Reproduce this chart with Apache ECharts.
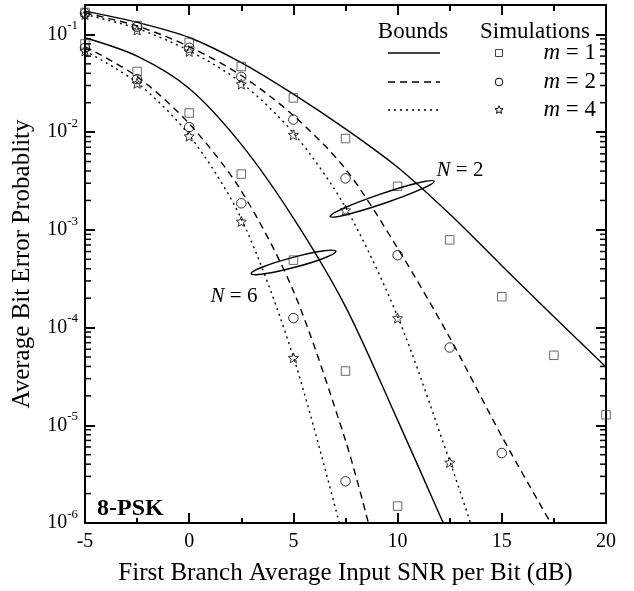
<!DOCTYPE html>
<html>
<head>
<meta charset="utf-8">
<script src="https://cdn.jsdelivr.net/npm/echarts@6/dist/echarts.min.js"></script>
<style>
  html, body { margin: 0; padding: 0; background: #fff; }
  #chart { width: 634px; height: 591px; }
</style>
</head>
<body>
<div id="chart"></div>
<script>
// simulation points (x = SNR in dB)
var xSim = [-5, -2.5, 0, 2.5, 5, 7.5, 10, 12.5, 15, 17.5, 20]
var simN2m1 = [0.168, 0.123, 0.083, 0.047, 0.0224, 0.0086, 0.00279, 7.9e-4, 2.07e-4, 5.2e-5, 1.28e-5]
var simN2m2 = [0.165, 0.12, 0.073, 0.0368, 0.01345, 0.00336, 5.5e-4, 6.25e-5, 5.2e-6]
var simN2m4 = [0.16, 0.111, 0.067, 0.031, 0.0094, 0.00159, 1.25e-4, 4.17e-6]
var simN6m1 = [0.08, 0.0418, 0.0157, 0.00372, 4.9e-4, 3.59e-5, 1.49e-6]
var simN6m2 = [0.073, 0.0349, 0.01127, 0.00187, 1.25e-4, 2.67e-6]
var simN6m4 = [0.068, 0.0316, 0.0091, 0.00122, 4.9e-5]

// bounds (analytic curves)
var xB = [-5, -2.5, 0, 2.5, 5, 7.5, 10, 12.5, 15, 17.5, 20]
var bndN2m1 = [0.173, 0.133, 0.093, 0.0515, 0.0245, 0.0108, 0.00437, 0.00145, 4.3e-4, 1.29e-4, 3.95e-5]
var xBN2m2 = [-5, -2.5, 0, 2.5, 5, 7.5, 10, 12.5, 15, 17.35]
var bndN2m2 = [0.166, 0.122, 0.075, 0.038, 0.0148, 0.0042, 6.5e-4, 7.9e-5, 7.7e-6, 1e-6]
var xBN2m4 = [-5, -2.5, 0, 2.5, 5, 7.5, 10, 12.5, 13.5]
var bndN2m4 = [0.16, 0.115, 0.068, 0.032, 0.0098, 0.0017, 1.3e-4, 4.3e-6, 1e-6]
var xBN6m1 = [-5, -2.5, 0, 2.5, 5, 7.5, 10, 12.19]
var bndN6m1 = [0.0925, 0.06, 0.028, 0.0075, 1.32e-3, 1.64e-4, 1.13e-5, 1e-6]
var xBN6m2 = [-5, -2.5, 0, 2.5, 5, 7.5, 8.6]
var bndN6m2 = [0.075, 0.037, 0.0122, 0.0025, 2.37e-4, 7e-6, 1e-6]
var xBN6m4 = [-5, -2.5, 0, 2.5, 5, 7.2]
var bndN6m4 = [0.068, 0.032, 0.0093, 0.0013, 5e-5, 1e-6]

// ellipses: [x1, p1, x2, p2]
var ellipses = [
  [6.76, 1.37e-3, 11.75, 3.15e-3],
  [2.97, 3.56e-4, 7.04, 6.04e-4]
]

var xTicks = [-5, 20, 5]   // min, max, interval
var yRange = [1e-6, 0.2]

var FONT = '"Liberation Serif", "Times New Roman", serif'
var STAR = 'path://M0,-10L2.645,-3.64L9.51,-3.09L4.28,1.39L5.88,8.09L0,4.5L-5.88,8.09L-4.28,1.39L-9.51,-3.09L-2.645,-3.64Z'
var DASH = [7, 5]
var DOT = [2, 4]

function pairs(xs, ys) {
  return ys.map(function (y, i) { return [xs[i], y] })
}

// log minor ticks 2..9 per decade
var yMinor = []
for (var d = -6; d <= -1; d++) {
  for (var k = 2; k <= 9; k++) {
    var v = k * Math.pow(10, d)
    if (v < yRange[1]) yMinor.push([xTicks[0], v])
  }
}

function bound(name, xs, ys, type) {
  return {
    name: name, type: 'line', data: pairs(xs, ys), showSymbol: false,
    smooth: 0.3, silent: true,
    lineStyle: { color: '#000', width: 1.4, type: type }, z: 3
  }
}

function sim(name, ys, symbol, size, color) {
  return {
    name: name, type: 'scatter', data: pairs(xSim, ys), symbol: symbol, symbolSize: size,
    itemStyle: { color: 'rgba(0,0,0,0)', borderColor: color, borderWidth: 1 }, z: 4
  }
}

function starPoints(cx, cy, r) {
  var pts = []
  for (var i = 0; i < 10; i++) {
    var a = -Math.PI / 2 + i * Math.PI / 5
    var rr = i % 2 ? r * 0.45 : r
    pts.push([cx + rr * Math.cos(a), cy + rr * Math.sin(a)])
  }
  return pts
}

var chart = echarts.init(document.getElementById('chart'))

var axisLine = { show: true, onZero: false, lineStyle: { color: '#000', width: 2 } }
var tick = { inside: true, length: 10, lineStyle: { color: '#000', width: 2 } }

chart.setOption({
  animation: false,
  backgroundColor: '#fff',
  grid: { left: 85, right: 28, top: 5, bottom: 64, containLabel: false },
  xAxis: [
    {
      type: 'value', min: xTicks[0], max: xTicks[1], interval: xTicks[2],
      name: 'First Branch Average Input SNR per Bit (dB)', nameLocation: 'middle', nameGap: 38,
      nameTextStyle: { fontFamily: FONT, fontSize: 25, color: '#000' },
      axisLine: axisLine, axisTick: tick, splitLine: { show: false },
      minorTick: { show: true, splitNumber: 2, length: 5, lineStyle: { color: '#000', width: 2 } },
      axisLabel: { fontFamily: FONT, fontSize: 20, color: '#000', margin: 9 }
    },
    {
      type: 'value', min: xTicks[0], max: xTicks[1], interval: xTicks[2], position: 'top',
      axisLine: axisLine, axisTick: tick, splitLine: { show: false },
      minorTick: { show: true, splitNumber: 2, length: 6, lineStyle: { color: '#000', width: 2 } },
      axisLabel: { show: false }
    }
  ],
  yAxis: [
    {
      type: 'log', logBase: 10, min: yRange[0], max: yRange[1],
      name: 'Average Bit Error Probablity', nameLocation: 'middle', nameGap: 50,
      nameTextStyle: { fontFamily: FONT, fontSize: 25, color: '#000' },
      axisLine: axisLine, axisTick: tick, splitLine: { show: false },
      axisLabel: {
        margin: 7, color: '#000',
        formatter: function (v) {
          var l = Math.log(v) / Math.LN10
          var e = Math.round(l)
          if (Math.abs(l - e) > 1e-6) return ''
          return '{b|10}{s|' + e + '}'
        },
        rich: {
          b: { fontFamily: FONT, fontSize: 20, lineHeight: 30, color: '#000' },
          s: { fontFamily: FONT, fontSize: 13, lineHeight: 30, verticalAlign: 'top', color: '#000' }
        }
      }
    },
    {
      type: 'log', logBase: 10, min: yRange[0], max: yRange[1], position: 'right',
      axisLine: axisLine, axisTick: tick, splitLine: { show: false },
      axisLabel: { show: false }
    }
  ],
  series: [
    {
      type: 'custom', silent: true, data: yMinor, z: 2,
      renderItem: function (params, api) {
        var p = api.coord([xTicks[0], api.value(1)])
        var q = api.coord([xTicks[1], api.value(1)])
        return {
          type: 'group', children: [
            { type: 'line', shape: { x1: p[0], y1: p[1], x2: p[0] + 6, y2: p[1] }, style: { stroke: '#000', lineWidth: 1.5 } },
            { type: 'line', shape: { x1: q[0] - 6, y1: q[1], x2: q[0], y2: q[1] }, style: { stroke: '#000', lineWidth: 1.5 } }
          ]
        }
      }
    },
    {
      type: 'custom', silent: true, data: ellipses, z: 5,
      renderItem: function (params, api) {
        var a = api.coord([api.value(0), api.value(1)])
        var b = api.coord([api.value(2), api.value(3)])
        var dx = b[0] - a[0], dy = b[1] - a[1]
        var len = Math.sqrt(dx * dx + dy * dy)
        return {
          type: 'ellipse', x: (a[0] + b[0]) / 2, y: (a[1] + b[1]) / 2,
          rotation: -Math.atan2(dy, dx),
          shape: { cx: 0, cy: 0, rx: len / 2, ry: 5 },
          style: { fill: 'none', stroke: '#000', lineWidth: 1.5 }
        }
      }
    },
    bound('N2 m1', xB, bndN2m1, 'solid'),
    bound('N2 m2', xBN2m2, bndN2m2, DASH),
    bound('N2 m4', xBN2m4, bndN2m4, DOT),
    bound('N6 m1', xBN6m1, bndN6m1, 'solid'),
    bound('N6 m2', xBN6m2, bndN6m2, DASH),
    bound('N6 m4', xBN6m4, bndN6m4, DOT),
    sim('sim N2 m1', simN2m1, 'rect', 8.5, '#444'),
    sim('sim N2 m2', simN2m2, 'circle', 9.5, '#000'),
    sim('sim N2 m4', simN2m4, STAR, 10, '#000'),
    sim('sim N6 m1', simN6m1, 'rect', 8.5, '#444'),
    sim('sim N6 m2', simN6m2, 'circle', 9.5, '#000'),
    sim('sim N6 m4', simN6m4, STAR, 10, '#000')
  ],
  graphic: [
    { type: 'text', x: 413, y: 32, style: { text: 'Bounds', fontFamily: FONT, fontSize: 23, fill: '#000', align: 'center', verticalAlign: 'middle' } },
    { type: 'text', x: 535, y: 32, style: { text: 'Simulations', fontFamily: FONT, fontSize: 23, fill: '#000', align: 'center', verticalAlign: 'middle' } },
    { type: 'line', shape: { x1: 388, y1: 53, x2: 440, y2: 53 }, style: { stroke: '#000', lineWidth: 1.4 } },
    { type: 'line', shape: { x1: 388, y1: 82, x2: 440, y2: 82 }, style: { stroke: '#000', lineWidth: 1.4, lineDash: DASH } },
    { type: 'line', shape: { x1: 388, y1: 110, x2: 440, y2: 110 }, style: { stroke: '#000', lineWidth: 1.4, lineDash: DOT } },
    { type: 'rect', shape: { x: 495.5, y: 49.5, width: 7, height: 7 }, style: { fill: 'none', stroke: '#444', lineWidth: 1 } },
    { type: 'circle', shape: { cx: 499, cy: 82, r: 3.8 }, style: { fill: 'none', stroke: '#000', lineWidth: 1 } },
    { type: 'polygon', shape: { points: starPoints(499, 110, 4.2) }, style: { fill: 'none', stroke: '#000', lineWidth: 1 } },
    { type: 'text', x: 596, y: 53, style: { text: '{i|m}{r| = 1}', align: 'right', verticalAlign: 'middle', rich: { i: { fontFamily: FONT, fontSize: 23, fontStyle: 'italic' }, r: { fontFamily: FONT, fontSize: 23 } } } },
    { type: 'text', x: 596, y: 82, style: { text: '{i|m}{r| = 2}', align: 'right', verticalAlign: 'middle', rich: { i: { fontFamily: FONT, fontSize: 23, fontStyle: 'italic' }, r: { fontFamily: FONT, fontSize: 23 } } } },
    { type: 'text', x: 596, y: 110, style: { text: '{i|m}{r| = 4}', align: 'right', verticalAlign: 'middle', rich: { i: { fontFamily: FONT, fontSize: 23, fontStyle: 'italic' }, r: { fontFamily: FONT, fontSize: 23 } } } },
    { type: 'text', x: 460, y: 170, style: { text: '{i|N}{r| = 2}', align: 'center', verticalAlign: 'middle', rich: { i: { fontFamily: FONT, fontSize: 21, fontStyle: 'italic' }, r: { fontFamily: FONT, fontSize: 21 } } } },
    { type: 'text', x: 234, y: 296, style: { text: '{i|N}{r| = 6}', align: 'center', verticalAlign: 'middle', rich: { i: { fontFamily: FONT, fontSize: 21, fontStyle: 'italic' }, r: { fontFamily: FONT, fontSize: 21 } } } },
    { type: 'text', x: 97, y: 509, style: { text: '8-PSK', fontFamily: FONT, fontSize: 24, fontWeight: 'bold', fill: '#000', align: 'left', verticalAlign: 'middle' } }
  ]
})
</script>
</body>
</html>
